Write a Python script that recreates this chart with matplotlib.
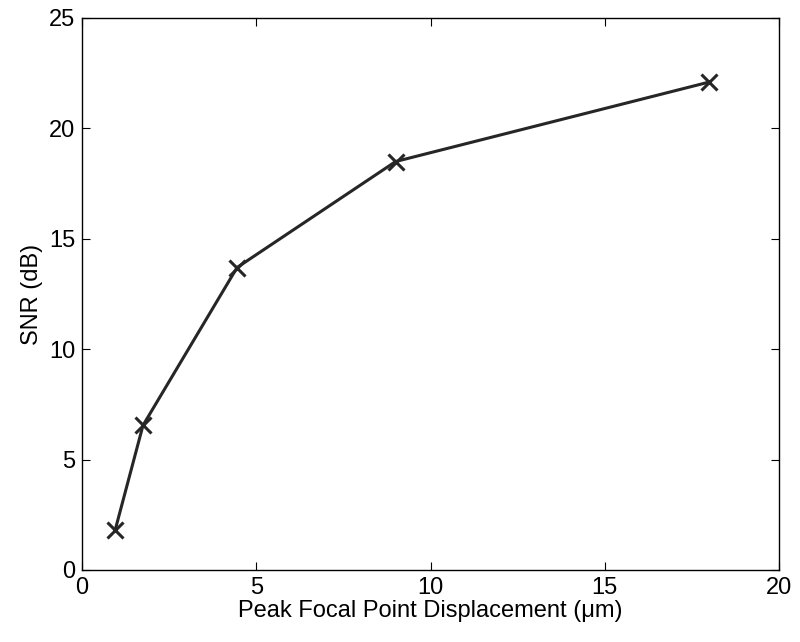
import matplotlib
matplotlib.use("Agg")
import matplotlib.pyplot as plt

displacement = [0.95, 1.75, 4.45, 9.0, 18.0]
snr = [1.8, 6.55, 13.7, 18.5, 22.1]
xticks = [0, 5, 10, 15, 20]
yticks = [0, 5, 10, 15, 20, 25]

plt.rcParams["font.family"] = "Liberation Sans"
fig = plt.figure(figsize=(8, 6.42), dpi=100)
ax = fig.add_axes([82/800, 1-570/642, (779-82)/800, (570-18)/642])
ax.plot(displacement, snr, color="#262626", lw=2.2, marker="x", ms=12, mew=2.2)
ax.set_xlim(0, 20)
ax.set_ylim(0, 25)
ax.set_xticks(xticks)
ax.set_yticks(yticks)
ax.tick_params(direction="in", labelsize=17, top=True, right=True, length=6, pad=5)
for s in ax.spines.values():
    s.set_linewidth(1.0)
ax.set_xlabel("Peak Focal Point Displacement (\u03bcm)", fontsize=17, labelpad=1)
ax.set_ylabel("SNR (dB)", fontsize=17, labelpad=4)
fig.savefig("out.png", dpi=100)
